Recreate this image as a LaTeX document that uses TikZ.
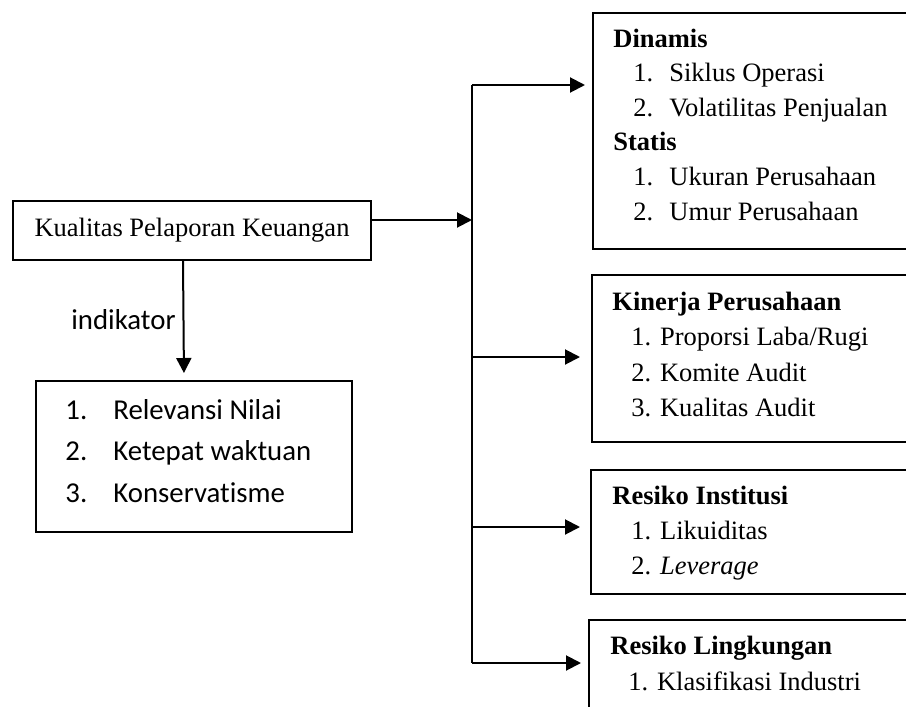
\documentclass[tikz,border=0pt]{standalone}
\usepackage{fontspec}
\setmainfont{Liberation Serif}
\newfontfamily\calibri[Ligatures=NoCommon]{Carlito}
\usepackage{tikz}
\usetikzlibrary{arrows.meta,calc}
\tikzset{box/.style={draw,line width=1pt,inner sep=0pt,anchor=north west},
    txt/.style={inner sep=0pt,anchor=base west,font=\fontsize{13.25}{#1}\selectfont},
    txt/.default=17.5,
    lnk/.style={line width=1pt,line join=miter}}

\begin{document}
\begin{tikzpicture}[x=0.5pt,y=-0.5pt,>={Triangle[length=7.5pt,width=7.5pt]}]
    \useasboundingbox (0,0) rectangle (906,707);
    \clip (0,0) rectangle (906,707);

    % left side
    \node[draw,line width=1pt,minimum width=179pt,minimum height=29.5pt,inner sep=0pt,
        font=\fontsize{13.25}{16}\selectfont] (kpk) at (192,230.5) {Kualitas Pelaporan Keuangan};
    \node[box,minimum width=158pt,minimum height=75.5pt] (ind) at (35,380) {};
    \node[inner sep=0pt,anchor=base west,font=\calibri\fontsize{14.4}{20.75}\selectfont] (indT) at (65,419)
        {\begin{tabular}[t]{@{}l@{}}
        \makebox[24pt][l]{1.}Relevansi Nilai\\
        \makebox[24pt][l]{2.}Ketepat waktuan\\
        \makebox[24pt][l]{3.}Konservatisme
        \end{tabular}};
    \node[inner sep=0pt,anchor=base east,font=\calibri\fontsize{14.4}{17}\selectfont] (lbl) at (176,329) {indikator};

    % right side
    \node[box,minimum width=174pt,minimum height=118pt] (dyn) at (592,12) {};
    \node[box,minimum width=175pt,minimum height=83.5pt] (kin) at (591,274) {};
    \node[box,minimum width=175pt,minimum height=62pt] (ins) at (590,469) {};
    \node[box,minimum width=176pt,minimum height=60pt] (lin) at (588,619) {};

    \node[txt=17.3] (dynT) at (613,47)
        {\begin{tabular}[t]{@{}l@{}}
        \textbf{Dinamis}\\
        \hspace*{10pt}\makebox[18pt][l]{1.}Siklus Operasi\\
        \hspace*{10pt}\makebox[18pt][l]{2.}Volatilitas Penjualan\\
        \textbf{Statis}\\
        \hspace*{10pt}\makebox[18pt][l]{1.}Ukuran Perusahaan\\
        \hspace*{10pt}\makebox[18pt][l]{2.}Umur Perusahaan
        \end{tabular}};
    \node[txt=17.8] (kinT) at (612,310)
        {\begin{tabular}[t]{@{}l@{}}
        \textbf{Kinerja Perusahaan}\\
        \hspace*{9.5pt}1. Proporsi Laba/Rugi\\
        \hspace*{9.5pt}2. Komite Audit\\
        \hspace*{9.5pt}3. Kualitas Audit
        \end{tabular}};
    \node[txt] (insT) at (612,504)
        {\begin{tabular}[t]{@{}l@{}}
        \textbf{Resiko Institusi}\\
        \hspace*{9.5pt}1. Likuiditas\\
        \hspace*{9.5pt}2. \textit{Leverage}
        \end{tabular}};
    \node[txt=18] (linT) at (610,654)
        {\begin{tabular}[t]{@{}l@{}}
        \textbf{Resiko Lingkungan}\\
        \hspace*{9pt}1. Klasifikasi Industri
        \end{tabular}};

    % bus
    \coordinate (bt) at (472,85);
    \coordinate (hub) at (472,220);
    \coordinate (b2) at (472,357);
    \coordinate (b3) at (472,527);
    \coordinate (bb) at (472,663);

    \draw [lnk,->,shorten >=3.5pt] ([xshift=-4.5pt]kpk.south) to [] ([xshift=-5pt]ind.north);
    \draw [lnk,->] (kpk.east |- hub) to [] (hub);
    \draw [lnk] (bt) to [] (bb);
    \draw [lnk,->,shorten >=3.5pt] (bt) to [] (dyn.west |- bt);
    \draw [lnk,->,shorten >=5.5pt] (b2) to [] (kin.west |- b2);
    \draw [lnk,->,shorten >=5pt] (b3) to [] (ins.west |- b3);
    \draw [lnk,->,shorten >=3.5pt] (bb) to [] (lin.west |- bb);
\end{tikzpicture}
\end{document}
